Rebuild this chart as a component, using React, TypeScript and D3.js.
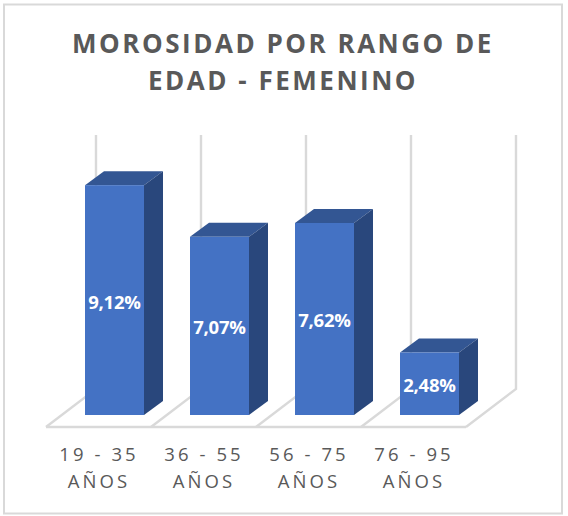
import React from "react";
import * as d3 from "d3";

const categories = ["19 - 35", "36 - 55", "56 - 75", "76 - 95"];
const secondLine = ["AÑOS", "AÑOS", "AÑOS", "AÑOS"];
const values = [9.12, 7.07, 7.62, 2.48];
const valueLabels = ["9,12%", "7,07%", "7,62%", "2,48%"];
const titleLines = ["MOROSIDAD POR RANGO DE", "EDAD - FEMENINO"];

const W = 568, H = 516;
const slotX = d3.scaleBand<string>().domain(categories).range([46, 466]).paddingInner(0).paddingOuter(0);
const y = d3.scaleLinear().domain([0, 10]).range([415, 163]);
const depth = { dx: 19, dy: -14 };
const floorDepth = { dx: 50, dy: -38 };
const floorY = 427;
const topY = 135;
const barW = 59;
const gridColor = "#d9d9d9";
const font = "'Open Sans', sans-serif";

export default function App() {
  const bw = slotX.bandwidth();
  const edges = [...categories.map((c) => slotX(c) as number), 466];
  return (
    <svg width={W} height={H} viewBox={`0 0 ${W} ${H}`}
      style={{ position: "fixed", left: 0, top: 0, display: "block" }}>
      <rect x={0} y={0} width={W} height={H} fill="#fff" />
      <rect x={4} y={4.5} width={558} height={509} fill="#fff" stroke="#d9d9d9" strokeWidth={2} />
      {titleLines.map((t, i) => (
        <text key={t} x={283} y={53 + i * 37} textAnchor="middle" fontFamily={font} fontWeight={700}
          fontSize={26} letterSpacing={2.52} fill="#595959">{t}</text>
      ))}
      {/* floor and back grid */}
      <g fill="none" stroke={gridColor} strokeWidth={2.4}>
        <line x1={edges[0]} x2={edges[4]} y1={floorY} y2={floorY} />
        {edges.map((e) => (
          <path key={e} d={`M${e},${floorY}L${e + floorDepth.dx},${floorY + floorDepth.dy}L${e + floorDepth.dx},${topY}`} />
        ))}
      </g>
      {/* bars */}
      {categories.map((c, i) => {
        const x0 = (slotX(c) as number) + (bw - barW) / 2 + 16;
        const x1 = x0 + barW;
        const yt = y(values[i]);
        const yb = y(0);
        const { dx, dy } = depth;
        return (
          <g key={c}>
            <path d={`M${x0},${yt}L${x0 + dx},${yt + dy}L${x1 + dx},${yt + dy}L${x1},${yt}Z`} fill="#335693" />
            <path d={`M${x1},${yt}L${x1 + dx},${yt + dy}L${x1 + dx},${yb + dy}L${x1},${yb}Z`} fill="#29477c" />
            <rect x={x0} y={yt} width={barW} height={yb - yt} fill="#4472c4" />
            <text x={x0 + barW / 2} y={(yt + yb) / 2 + 8.5} textAnchor="middle" fontFamily={font}
              fontWeight={700} fontSize={18.5} letterSpacing={-0.2} fill="#fff">{valueLabels[i]}</text>
          </g>
        );
      })}
      {/* category labels */}
      {categories.map((c, i) => {
        const cx = (slotX(c) as number) + bw / 2 + 0.5;
        return (
          <g key={c} fontFamily={font} fontSize={18.5} letterSpacing={3.1} fill="#595959" textAnchor="middle">
            <text x={cx} y={461}>{c}</text>
            <text x={cx} y={488}>{secondLine[i]}</text>
          </g>
        );
      })}
    </svg>
  );
}
